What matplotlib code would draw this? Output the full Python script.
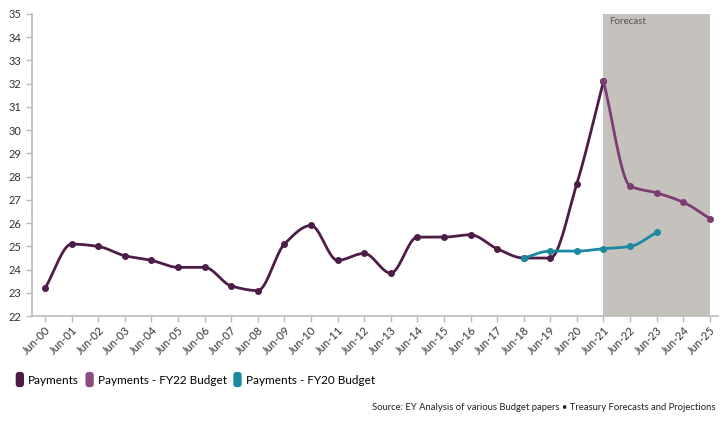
import numpy as np
import matplotlib
matplotlib.use("Agg")
import matplotlib.pyplot as plt
from matplotlib.patches import FancyBboxPatch, Patch
from matplotlib.legend_handler import HandlerPatch

plt.rcParams['font.family'] = ['Lato', 'DejaVu Sans']

labels = ["Jun-%02d" % i for i in range(26)]
payments = [23.2, 25.1, 25.0, 24.6, 24.4, 24.1, 24.1, 23.3, 23.1, 25.1, 25.9, 24.4,
            24.7, 23.85, 25.4, 25.4, 25.5, 24.9, 24.5, 24.5, 27.7, 32.1]
fy22_idx = [21, 22, 23, 24, 25]
fy22 = [32.1, 27.6, 27.3, 26.9, 26.2]
fy20_idx = [18, 19, 20, 21, 22, 23]
fy20 = [24.5, 24.8, 24.8, 24.9, 25.0, 25.6]

c_pay = "#4e1d47"
c_fy22 = "#7d3c74"
c_fy20 = "#1b8aa0"


def monotone(x, y, n=20):
    # monotone cubic (Fritsch-Carlson) for drawing the smooth line shape
    x = np.asarray(x, float)
    y = np.asarray(y, float)
    h = np.diff(x)
    d = np.diff(y) / h
    m = np.zeros_like(y)
    m[0], m[-1] = d[0], d[-1]
    for i in range(1, len(y) - 1):
        if d[i - 1] * d[i] <= 0:
            m[i] = 0
        else:
            m[i] = 3 * (h[i - 1] + h[i]) / ((2 * h[i] + h[i - 1]) / d[i - 1] + (h[i] + 2 * h[i - 1]) / d[i])
    xs, ys = [], []
    for i in range(len(x) - 1):
        t = np.linspace(0, 1, n)
        h00 = 2 * t**3 - 3 * t**2 + 1
        h10 = t**3 - 2 * t**2 + t
        h01 = -2 * t**3 + 3 * t**2
        h11 = t**3 - t**2
        xs.extend(x[i] + t * h[i])
        ys.extend(h00 * y[i] + h10 * h[i] * m[i] + h01 * y[i + 1] + h11 * h[i] * m[i + 1])
    return np.array(xs), np.array(ys)


class RoundSwatch(HandlerPatch):
    def create_artists(self, legend, orig_handle, xdescent, ydescent, width, height, fontsize, trans):
        w, hh = 6, 11
        x0 = -xdescent + (width - w) / 2
        y0 = -ydescent + (height - hh) / 2
        p = FancyBboxPatch((x0, y0), w, hh, boxstyle="round,pad=0,rounding_size=2.5",
                           facecolor=orig_handle.get_facecolor(), edgecolor="none", transform=trans)
        return [p]


fig = plt.figure(figsize=(7.28, 4.21), dpi=100)
ax = fig.add_axes([0.044, 0.249, 0.942, 0.718])

ax.axvspan(21, 25, color="#c5c1bd", zorder=0, lw=0)
ax.text(21.2, 34.85, "Forecast", fontsize=7, color="#555555", va="top", ha="left")

for xi, yi, col in [(range(len(payments)), payments, c_pay), (fy22_idx, fy22, c_fy22), (fy20_idx, fy20, c_fy20)]:
    sx, sy = monotone(list(xi), yi)
    ax.plot(sx, sy, color=col, lw=2, zorder=3, solid_capstyle="round")
    ax.scatter(list(xi), yi, color=col, s=16, zorder=4)

ax.set_xlim(-0.49, 25.3)
ax.set_ylim(22, 35)
ax.set_yticks(range(22, 36))
ax.set_xticks(range(26))
ax.set_xticklabels(labels, rotation=45, ha="right", rotation_mode="anchor")
ax.tick_params(axis="both", labelsize=8, colors="#bbbbbb", labelcolor="#333333", length=4, width=1)
ax.tick_params(axis="x", pad=2)
for s in ["top", "right"]:
    ax.spines[s].set_visible(False)
for s in ["left", "bottom"]:
    ax.spines[s].set_color("#bbbbbb")
    ax.spines[s].set_linewidth(1.2)

handles = [Patch(facecolor=c) for c in [c_pay, "#8c4d83", c_fy20]]
fig.legend(handles, ["Payments", "Payments - FY22 Budget", "Payments - FY20 Budget"],
           loc="center left", bbox_to_anchor=(0.007, 0.097), ncol=3, frameon=False,
           fontsize=8.5, handlelength=0.7, handletextpad=0.35, columnspacing=0.55,
           handler_map={Patch: RoundSwatch()})

fig.text(0.983, 0.033, "Source: EY Analysis of various Budget papers \u2022 Treasury Forecasts and Projections",
         fontsize=6.8, ha="right", va="center", color="#222222")

fig.savefig("out.png", dpi=100)
